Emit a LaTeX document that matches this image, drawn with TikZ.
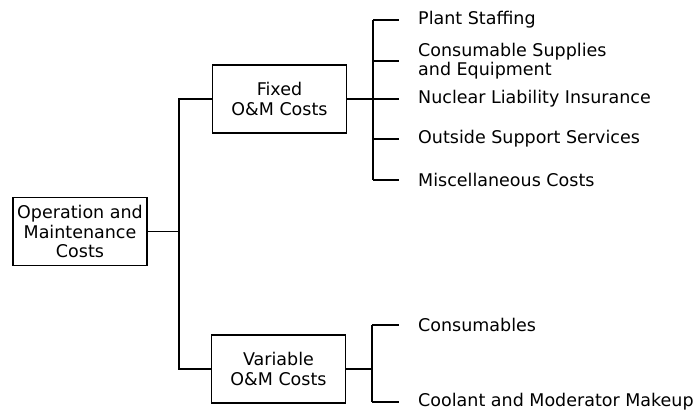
\documentclass[tikz,border=0pt]{standalone}
\usepackage{fontspec}
\setsansfont{DejaVu Sans}
\usepackage{tikz}
\usetikzlibrary{positioning}

\begin{document}
\begin{tikzpicture}[
  x=1pt, y=-1pt,
  font=\sffamily\fontsize{17.5}{19.5}\selectfont,
  every node/.style={align=center},
  costbox/.style={draw, line width=1.3pt, minimum width=134pt, minimum height=68pt, inner sep=0pt},
  item/.style={anchor=west, align=left, inner sep=0pt},
  link/.style={line width=1.3pt},
]
\useasboundingbox (0,0) rectangle (699,413);

% boxes
\node[costbox] (root) at (80,231.5) {Operation and\\ Maintenance\\ Costs};
\node[costbox] (fixed) at (279.5,99) {Fixed\\ O\&M Costs};
\node[costbox] (variable) at (278.5,369) {Variable\\ O\&M Costs};

% junctions
\coordinate (rootJ) at (179,231.5);
\coordinate (fixedJ) at (373,99);
\coordinate (varJ) at (372,369);

% fixed cost items
\node[item] (staff) at (418,20) {Plant Staffing};
\node[item] (supply) at (418,61) {Consumable Supplies\\ and Equipment};
\node[item] (insur) at (418,99) {Nuclear Liability Insurance};
\node[item] (support) at (418,139) {Outside Support Services};
\node[item] (misc) at (418,180) {Miscellaneous Costs};

% variable cost items
\node[item] (consum) at (418,325) {Consumables};
\node[item] (coolant) at (418,402) {Coolant and Moderator Makeup};

% root to the two groups
\draw[link] (root.east) -- (rootJ);
\draw[link] (fixed.west) -| (rootJ) |- (variable.west);

% fixed branch
\draw[link] (fixed.east) -- (fixedJ);
\draw[link] (fixedJ |- staff.west) -- (fixedJ |- misc.west);
\foreach \leaf in {staff, supply, insur, support, misc}
  \draw[link] (fixedJ |- \leaf.west) -- ([xshift=-19pt]\leaf.west);

% variable branch
\draw[link] (variable.east) -- (varJ);
\draw[link] (varJ |- consum.west) -- (varJ |- coolant.west);
\foreach \leaf in {consum, coolant}
  \draw[link] (varJ |- \leaf.west) -- ([xshift=-19pt]\leaf.west);

\end{tikzpicture}
\end{document}
